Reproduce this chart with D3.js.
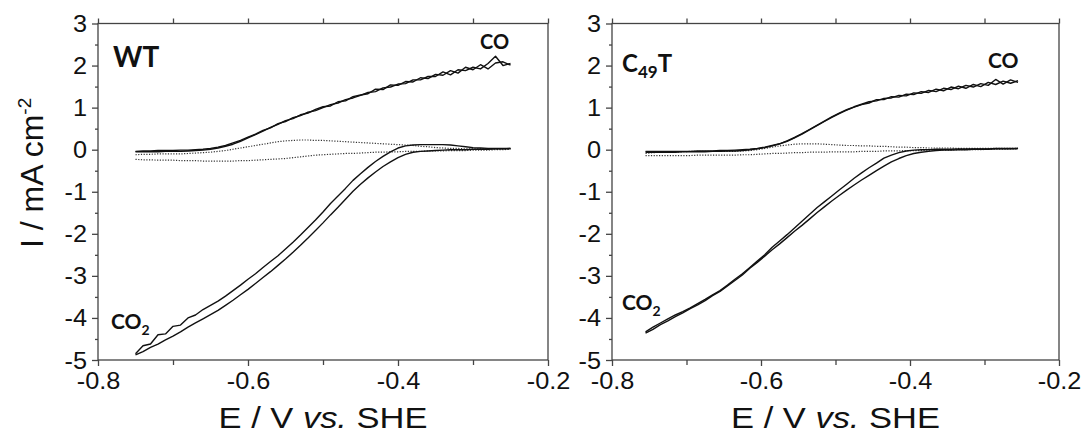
<!DOCTYPE html>
<html><head><meta charset="utf-8">
<script src="https://cdn.jsdelivr.net/npm/d3@7"></script>
<style>
html,body{margin:0;padding:0;background:#fff;}
svg{display:block;}
</style></head>
<body>
<svg id="chart" width="1086" height="434"></svg>
<script>
// ---------- DATA ----------
const xTickValues = [-0.8, -0.6, -0.4, -0.2];
const xMinorTicks = [-0.7, -0.5, -0.3];
const yTickValues = [-5, -4, -3, -2, -1, 0, 1, 2, 3];
const yMinorTicks = [-4.5, -3.5, -2.5, -1.5, -0.5, 0.5, 1.5, 2.5];

// WT panel: potential grid (V vs SHE)
const potentialWT = [-0.75,-0.74,-0.73,-0.72,-0.71,-0.70,-0.69,-0.68,-0.67,-0.66,-0.65,-0.64,-0.63,-0.62,-0.61,-0.60,-0.59,-0.58,-0.57,-0.56,-0.55,-0.54,-0.53,-0.52,-0.51,-0.50,-0.49,-0.48,-0.47,-0.46,-0.45,-0.44,-0.43,-0.42,-0.41,-0.40,-0.39,-0.38,-0.37,-0.36,-0.35,-0.34,-0.33,-0.32,-0.31,-0.30,-0.29,-0.28,-0.27,-0.26,-0.25];
const coScanA_WT = [-0.04,-0.03,-0.03,-0.02,-0.02,-0.02,-0.01,-0.01,0.00,0.01,0.03,0.06,0.10,0.16,0.22,0.30,0.37,0.46,0.52,0.62,0.67,0.76,0.81,0.89,0.93,1.00,1.07,1.11,1.19,1.23,1.29,1.36,1.38,1.47,1.49,1.56,1.57,1.66,1.66,1.74,1.74,1.85,1.78,1.90,1.88,1.96,1.92,2.05,2.22,2.00,2.05];
const coScanB_WT = [-0.05,-0.05,-0.05,-0.05,-0.04,-0.04,-0.04,-0.03,-0.02,-0.01,0.01,0.04,0.08,0.13,0.20,0.28,0.36,0.44,0.53,0.60,0.69,0.74,0.83,0.87,0.96,1.02,1.04,1.14,1.16,1.26,1.30,1.33,1.44,1.43,1.54,1.53,1.62,1.61,1.71,1.69,1.79,1.77,1.88,1.82,1.96,1.90,2.02,1.92,2.06,2.09,2.01];
const co2ScanA_WT = [-4.85,-4.66,-4.62,-4.40,-4.38,-4.20,-4.17,-4.00,-3.93,-3.80,-3.70,-3.60,-3.48,-3.35,-3.22,-3.08,-2.95,-2.80,-2.66,-2.52,-2.36,-2.20,-2.03,-1.85,-1.67,-1.48,-1.28,-1.10,-0.92,-0.73,-0.57,-0.42,-0.28,-0.16,-0.05,0.04,0.09,0.11,0.12,0.12,0.12,0.12,0.11,0.09,0.07,0.05,0.04,0.03,0.03,0.03,0.03];
const co2ScanB_WT = [-4.88,-4.80,-4.70,-4.62,-4.52,-4.43,-4.33,-4.22,-4.12,-4.02,-3.92,-3.82,-3.70,-3.58,-3.45,-3.32,-3.18,-3.04,-2.90,-2.75,-2.60,-2.44,-2.27,-2.10,-1.92,-1.74,-1.55,-1.37,-1.18,-0.99,-0.82,-0.67,-0.53,-0.40,-0.29,-0.19,-0.11,-0.06,-0.04,-0.03,-0.02,-0.01,0.00,0.00,0.00,0.01,0.01,0.01,0.02,0.02,0.03];
const blankUpper_WT = [-0.12,-0.11,-0.11,-0.10,-0.10,-0.10,-0.10,-0.09,-0.08,-0.07,-0.06,-0.04,-0.02,0.01,0.04,0.07,0.10,0.13,0.16,0.19,0.21,0.22,0.23,0.23,0.22,0.22,0.21,0.20,0.19,0.18,0.17,0.16,0.15,0.14,0.13,0.12,0.11,0.10,0.08,0.07,0.05,0.04,0.03,0.03,0.02,0.02,0.02,0.02,0.02,0.02,0.02];
const blankLower_WT = [-0.23,-0.24,-0.24,-0.25,-0.25,-0.25,-0.26,-0.26,-0.26,-0.27,-0.27,-0.27,-0.27,-0.27,-0.26,-0.26,-0.25,-0.24,-0.23,-0.22,-0.21,-0.19,-0.17,-0.15,-0.13,-0.12,-0.11,-0.10,-0.09,-0.09,-0.08,-0.07,-0.06,-0.06,-0.05,-0.05,-0.04,-0.04,-0.04,-0.03,-0.03,-0.03,-0.02,-0.02,-0.02,-0.01,-0.01,-0.01,0.00,0.00,0.01];

// C49T panel
const potentialC49T = [-0.755,-0.745,-0.735,-0.725,-0.715,-0.705,-0.695,-0.685,-0.675,-0.665,-0.655,-0.645,-0.635,-0.625,-0.615,-0.605,-0.595,-0.585,-0.575,-0.565,-0.555,-0.545,-0.535,-0.525,-0.515,-0.505,-0.495,-0.485,-0.475,-0.465,-0.455,-0.445,-0.435,-0.425,-0.415,-0.405,-0.395,-0.385,-0.375,-0.365,-0.355,-0.345,-0.335,-0.325,-0.315,-0.305,-0.295,-0.285,-0.275,-0.265,-0.255];
const coScanA_C49T = [-0.04,-0.04,-0.04,-0.04,-0.04,-0.04,-0.04,-0.03,-0.03,-0.03,-0.02,-0.02,-0.01,0.00,0.01,0.03,0.06,0.10,0.14,0.21,0.29,0.38,0.48,0.58,0.68,0.78,0.87,0.95,1.02,1.08,1.14,1.16,1.22,1.23,1.29,1.28,1.35,1.34,1.41,1.38,1.46,1.43,1.51,1.46,1.55,1.50,1.60,1.55,1.63,1.58,1.64];
const coScanB_C49T = [-0.06,-0.06,-0.06,-0.06,-0.06,-0.05,-0.05,-0.05,-0.05,-0.04,-0.04,-0.03,-0.03,-0.02,0.00,0.02,0.05,0.09,0.14,0.20,0.28,0.37,0.47,0.57,0.67,0.77,0.86,0.94,1.01,1.07,1.11,1.19,1.19,1.26,1.25,1.32,1.31,1.38,1.36,1.44,1.40,1.49,1.45,1.53,1.49,1.57,1.53,1.67,1.56,1.66,1.60];
const co2ScanA_C49T = [-4.33,-4.22,-4.12,-4.02,-3.93,-3.85,-3.76,-3.66,-3.56,-3.45,-3.35,-3.22,-3.08,-2.95,-2.80,-2.65,-2.50,-2.32,-2.17,-2.02,-1.86,-1.70,-1.54,-1.38,-1.24,-1.10,-0.96,-0.82,-0.68,-0.55,-0.43,-0.32,-0.20,-0.13,-0.07,-0.03,-0.01,0.00,0.00,0.01,0.01,0.01,0.02,0.02,0.02,0.02,0.02,0.03,0.03,0.03,0.03];
const co2ScanB_C49T = [-4.36,-4.27,-4.16,-4.07,-3.97,-3.88,-3.78,-3.69,-3.59,-3.47,-3.37,-3.24,-3.11,-2.98,-2.82,-2.68,-2.53,-2.38,-2.24,-2.09,-1.94,-1.80,-1.65,-1.50,-1.36,-1.22,-1.09,-0.96,-0.84,-0.72,-0.61,-0.50,-0.39,-0.29,-0.21,-0.14,-0.09,-0.06,-0.04,-0.02,-0.01,-0.01,0.00,0.00,0.01,0.01,0.01,0.02,0.02,0.02,0.03];
const blankUpper_C49T = [-0.09,-0.07,-0.06,-0.05,-0.05,-0.05,-0.04,-0.04,-0.04,-0.04,-0.04,-0.04,-0.04,-0.03,-0.02,0.00,0.03,0.06,0.09,0.11,0.13,0.14,0.14,0.14,0.13,0.12,0.11,0.10,0.10,0.09,0.09,0.08,0.08,0.07,0.06,0.06,0.05,0.05,0.04,0.04,0.04,0.04,0.03,0.03,0.03,0.03,0.03,0.03,0.03,0.03,0.03];
const blankLower_C49T = [-0.14,-0.14,-0.14,-0.14,-0.14,-0.14,-0.14,-0.13,-0.13,-0.13,-0.13,-0.13,-0.13,-0.12,-0.12,-0.11,-0.10,-0.09,-0.09,-0.08,-0.07,-0.07,-0.06,-0.06,-0.06,-0.05,-0.05,-0.05,-0.05,-0.04,-0.04,-0.04,-0.03,-0.03,-0.03,-0.02,-0.02,-0.02,-0.01,-0.01,-0.01,-0.01,0.00,0.00,0.00,0.00,0.01,0.01,0.01,0.02,0.02];

const panelNames = ["WT", "C49T"];

// ---------- DRAW ----------
const svg = d3.select("#chart");
const FONT = "'Liberation Sans', Arial, sans-serif";
const LABELFONT = "Lato, 'Open Sans', sans-serif";
const axisColor = "#444";

const panels = [
  {name: panelNames[0], left: 98, right: 548, E: potentialWT,
   solid: [coScanA_WT, coScanB_WT, co2ScanA_WT, co2ScanB_WT], dotted: [blankUpper_WT, blankLower_WT]},
  {name: panelNames[1], left: 612, right: 1059, E: potentialC49T,
   solid: [coScanA_C49T, coScanB_C49T, co2ScanA_C49T, co2ScanB_C49T], dotted: [blankUpper_C49T, blankLower_C49T]}
];
const plotTop = 23.5, plotBottom = 360;
const SX = 1.15;   // horizontal stretch of the titles
const TSX = 1.1;   // horizontal stretch of tick labels

panels.forEach((p, pi) => {
  const x = d3.scaleLinear().domain([-0.8, -0.2]).range([p.left, p.right]);
  const y = d3.scaleLinear().domain([-5, 3]).range([plotBottom, plotTop]);
  const g = svg.append("g");

  g.append("rect").attr("x", p.left).attr("y", plotTop).attr("width", p.right - p.left).attr("height", plotBottom - plotTop)
    .attr("fill", "none").attr("stroke", axisColor).attr("stroke-width", 1.3);

  const bx = g.append("g").attr("transform", `translate(0,${plotBottom})`)
    .call(d3.axisBottom(x).tickValues(xTickValues).tickSize(6).tickPadding(5).tickFormat(d => String(d)));
  const bm = g.append("g").attr("transform", `translate(0,${plotBottom})`)
    .call(d3.axisBottom(x).tickValues(xMinorTicks).tickSize(5).tickFormat(""));
  const tx = g.append("g").attr("transform", `translate(0,${plotTop})`)
    .call(d3.axisTop(x).tickValues(xTickValues.concat(xMinorTicks)).tickSize(5).tickFormat(""));
  const ly = g.append("g").attr("transform", `translate(${p.left},0)`)
    .call(d3.axisLeft(y).tickValues(yTickValues).tickSize(6).tickPadding(5).tickFormat(d => String(d)));
  const lm = g.append("g").attr("transform", `translate(${p.left},0)`)
    .call(d3.axisLeft(y).tickValues(yMinorTicks).tickSize(3).tickFormat(""));

  [bx, bm, tx, ly, lm].forEach(a => {
    a.select(".domain").remove();
    a.selectAll(".tick line").attr("stroke", axisColor).attr("stroke-width", 1.3);
    a.selectAll("text").attr("fill", "#111").style("font-family", FONT).style("font-size", "23px");
  });
  bx.selectAll(".tick text").attr("dy", "0.71em").attr("y", 13).attr("transform", `scale(${TSX},1)`);
  ly.selectAll(".tick text").attr("x", -11 / TSX).attr("dy", "0.35em").attr("transform", `scale(${TSX},1)`);

  const line = d3.line().x(d => x(d[0])).y(d => y(d[1]));
  p.dotted.forEach(vals => {
    g.append("path").datum(d3.zip(p.E, vals)).attr("d", line)
      .attr("fill", "none").attr("stroke", "#333").attr("stroke-width", 1.2).attr("stroke-dasharray", "1.2,1.5");
  });
  p.solid.forEach(vals => {
    g.append("path").datum(d3.zip(p.E, vals)).attr("d", line)
      .attr("fill", "none").attr("stroke", "#111").attr("stroke-width", 1.4).attr("stroke-linejoin", "round");
  });

  const cx = (p.left + p.right) / 2;
  const xt = g.append("text").attr("transform", `translate(${cx},428) scale(${SX},1)`)
    .attr("text-anchor", "middle").style("font-family", FONT).style("font-size", "30px").attr("fill", "#111");
  xt.append("tspan").text("E / V ");
  xt.append("tspan").style("font-style", "italic").text("vs.");
  xt.append("tspan").text(" SHE");
});

const yt = svg.append("text").attr("transform", "translate(43,248) rotate(-90)")
  .style("font-family", FONT).style("font-size", "32px").attr("fill", "#111");
yt.append("tspan").text("I / mA cm");
yt.append("tspan").attr("dy", "-12").style("font-size", "19px").text("-2");

function lab(xp, yp, size, parts) {
  const t = svg.append("text").attr("x", xp).attr("y", yp).style("font-family", LABELFONT)
    .style("font-weight", "bold").style("font-size", size + "px").attr("fill", "#111");
  parts.forEach(pt => {
    const s = t.append("tspan").text(pt.t);
    if (pt.sub) s.attr("dy", pt.sub).style("font-size", pt.size + "px");
    if (pt.back) s.attr("dy", pt.back);
  });
}
lab(113, 66.5, 28, [{t: "WT"}]);
lab(480, 49, 20, [{t: "CO"}]);
lab(111, 329, 21, [{t: "CO"}, {t: "2", sub: 6, size: 14}]);
lab(622, 71.5, 24, [{t: "C"}, {t: "49", sub: 6, size: 17}, {t: "T", back: -6}]);
lab(988, 68, 21, [{t: "CO"}]);
lab(622, 310, 21, [{t: "CO"}, {t: "2", sub: 6, size: 14}]);
</script>
</body></html>
